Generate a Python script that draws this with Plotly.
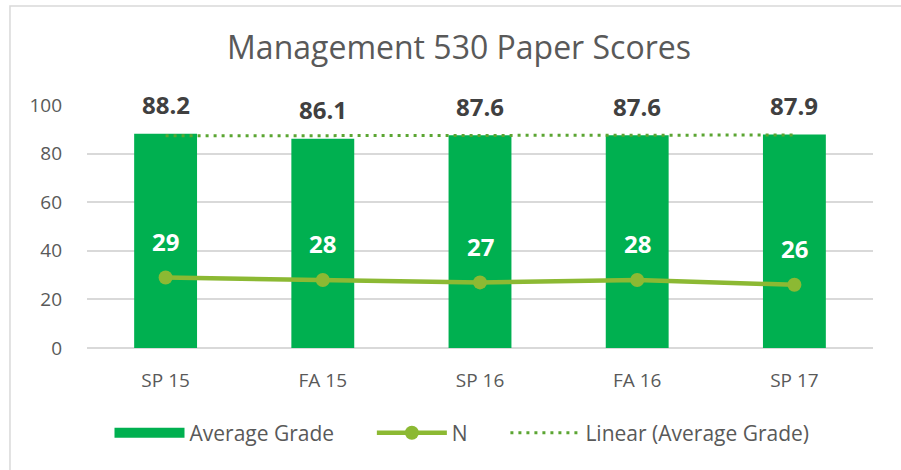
import numpy as np
import plotly.graph_objects as go

terms = ["SP 15", "FA 15", "SP 16", "FA 16", "SP 17"]
avg_grade = [88.2, 86.1, 87.6, 87.6, 87.9]
n_students = [29, 28, 27, 28, 26]
y_ticks = [0, 20, 40, 60, 80, 100]

# excel-style linear trendline on the grades
xs = np.arange(1, len(avg_grade) + 1)
slope, icpt = np.polyfit(xs, avg_grade, 1)
trend = slope * xs + icpt

bar_green = "#00B050"
line_green = "#8CB933"
trend_green = "#5BA532"
txt_grey = "#595959"
font = "Open Sans"
gap = "\u00a0" * 6  # extra room between legend entries

fig = go.Figure()
fig.add_trace(go.Bar(x=terms, y=avg_grade, name="Average Grade", showlegend=False,
                     marker=dict(color=bar_green, line=dict(width=0)), width=0.4))
# legend proxy so the bar key is a wide block like excel
fig.add_trace(go.Scatter(x=[None], y=[None], name="Average Grade" + gap, mode="lines",
                         line=dict(color=bar_green, width=14)))
fig.add_trace(go.Scatter(x=terms, y=n_students, name="N" + gap, mode="lines+markers",
                         line=dict(color=line_green, width=4.5),
                         marker=dict(size=14, color=line_green)))
fig.add_trace(go.Scatter(x=terms, y=trend, name="Linear (Average Grade)", mode="lines",
                         line=dict(color=trend_green, width=3, dash="3px,5px")))

for t, v in zip(terms, avg_grade):
    fig.add_annotation(x=t, y=v, text=f"<b>{v:.1f}</b>", showarrow=False, yshift=29,
                       font=dict(size=24, color="#404040", family=font))
for t, n in zip(terms, n_students):
    fig.add_annotation(x=t, y=n, text=f"<b>{n}</b>", showarrow=False, yshift=36,
                       font=dict(size=24, color="white", family=font))

# chart frame (only top/left visible in the crop)
fig.add_shape(type="rect", xref="paper", yref="paper", x0=-0.098, x1=1.2, y0=-1.0, y1=1.407,
              line=dict(color="#D9D9D9", width=1.5))

fig.update_layout(
    width=901, height=470,
    margin=dict(l=87, r=28, t=105, b=122),
    paper_bgcolor="white", plot_bgcolor="white",
    font=dict(family=font, color=txt_grey, size=18),
    title=dict(text="Management 530 Paper Scores", x=459 / 901, xanchor="center",
               y=1 - 48 / 470, yanchor="middle", font=dict(size=32, color=txt_grey)),
    showlegend=True,
    legend=dict(orientation="h", x=462 / 786 - 87 / 786, xanchor="center", y=-0.35, yanchor="middle",
                font=dict(size=21, color=txt_grey), traceorder="normal", itemwidth=70),
)
fig.update_xaxes(showgrid=False, showline=False, ticks="", ticklabelstandoff=19,
                 tickfont=dict(size=19, color=txt_grey))
fig.update_yaxes(range=[0, 100], tickvals=y_ticks, showgrid=True, gridcolor="#D9D9D9", gridwidth=1.5,
                 zeroline=True, zerolinecolor="#D9D9D9", zerolinewidth=1.5,
                 ticks="", ticklabelstandoff=24, tickfont=dict(size=19, color=txt_grey))

fig.write_html("out.html", config={"displayModeBar": False},
               post_script="document.body.style.margin='0';")
